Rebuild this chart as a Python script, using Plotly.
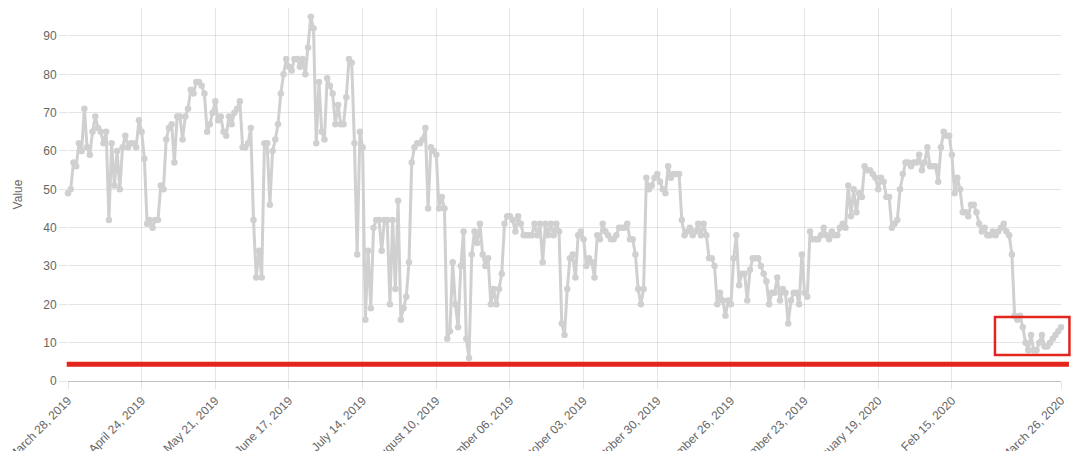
import pandas as pd
import plotly.graph_objects as go

start_date = "2019-03-28"

values = [
    49, 50, 57, 56, 62, 60, 71, 61, 59, 65,
    69, 66, 65, 62, 65, 42, 62, 51, 60, 50,
    61, 64, 61, 62, 62, 61, 68, 65, 58, 41,
    42, 40, 42, 42, 51, 50, 63, 66, 67, 57,
    69, 69, 63, 69, 71, 76, 75, 78, 78, 77,
    75, 65, 67, 70, 73, 68, 69, 65, 64, 69,
    67, 70, 71,
    73, 61, 61, 62, 66, 42, 27, 34, 27, 62,
    62, 46, 60, 63, 67, 75, 80, 84, 82, 81,
    84, 84, 82, 84, 80, 87, 95, 92, 62, 78,
    65, 63, 79, 77, 75, 67, 72, 67, 67, 74,
    84, 83, 62, 33, 65, 61,
    16, 34, 19, 40, 42, 42, 34, 42, 42, 20,
    42, 24, 47, 16, 19, 22, 31, 57, 61, 62,
    62, 63, 66, 45, 61, 60, 59, 45, 48, 45,
    11, 13, 31, 20, 14, 30, 39, 11, 6, 33,
    39, 36, 41, 33, 30, 32, 20, 24, 20, 24,
    28, 41, 43, 43, 42, 39, 43, 41, 38, 38,
    38, 38, 41, 38, 41, 31, 41, 38, 41, 38,
    41, 39, 15, 12, 24, 32, 33, 27,
    38, 39, 37, 30, 32, 31, 27, 38, 37, 41,
    39, 38, 37, 37, 38, 40, 40, 40, 41, 37,
    37, 33, 24, 20, 24, 53,
    50, 51, 53, 54, 52, 50, 49, 56, 53, 54,
    54, 54, 42, 38, 39, 40, 38, 39, 41, 38,
    41, 38, 32, 32, 30, 20, 23, 21, 17, 21,
    20, 32, 38, 25, 28, 28, 21, 29, 32, 32,
    32, 30, 28, 26, 20, 23, 23, 27,
    21, 24, 23, 15, 21, 23, 23, 20, 33, 23,
    22, 39, 37, 37, 37, 38, 40, 38, 37, 39,
    38, 38, 40, 41, 40,
    51, 43, 50, 44, 49, 48, 56, 55, 55, 54,
    53, 50, 53, 52, 48, 48, 40, 41, 42, 50,
    54, 57, 57, 56, 57, 57, 59, 55, 57, 61,
    56, 56, 56, 52, 61, 65, 64, 64, 59,
    49, 53, 50, 44, 44, 43, 46, 46, 44, 41,
    39, 40, 38, 38, 39, 38, 39, 40, 41, 39,
    38, 33, 17, 16, 17, 14, 10, 8, 12, 8,
    8, 10, 12, 9, 9, 10, 11, 12, 13, 14,
]

tick_dates = [
    "2019-03-28", "2019-04-24", "2019-05-21", "2019-06-17", "2019-07-14",
    "2019-08-10", "2019-09-06", "2019-10-03", "2019-10-30", "2019-11-26",
    "2019-12-23", "2020-01-19", "2020-02-15", "2020-03-26",
]
tick_labels = [
    "March 28, 2019", "April 24, 2019", "May 21, 2019", "June 17, 2019",
    "July 14, 2019", "August 10, 2019", "September 06, 2019", "October 03, 2019",
    "October 30, 2019", "November 26, 2019", "December 23, 2019",
    "January 19, 2020", "Feb 15, 2020", "March 26, 2020",
]

threshold_value = 4.4
highlight_y = [6.8, 16.7]

dates = pd.date_range(start_date, periods=len(values), freq="D")

GRID = "rgba(0,0,0,0.1)"
FONT = dict(family="Liberation Sans, Arial, Helvetica, sans-serif", size=12, color="#666666")
LINE_COLOR = "#d0d0d0"

# the page body adds an 8px offset; figure is sized so the plot lands where the reference has it
PLOT_H = 373

fig = go.Figure()
fig.add_trace(go.Scatter(
    x=dates, y=values, mode="lines+markers",
    line=dict(color=LINE_COLOR, width=3),
    marker=dict(color=LINE_COLOR, size=6.5),
    cliponaxis=False, showlegend=False, hoverinfo="x+y",
))

fig.update_layout(
    width=1072, height=443,
    margin=dict(l=60, r=19, t=0, b=70),
    paper_bgcolor="white", plot_bgcolor="white",
    font=FONT,
    showlegend=False,
)

fig.update_xaxes(
    range=[dates[0], dates[-1]], automargin=False,
    tickmode="array", tickvals=pd.to_datetime(tick_dates), ticktext=tick_labels,
    tickangle=-45, ticklabeloverflow="allow",
    showgrid=True, gridcolor=GRID, gridwidth=1,
    ticks="outside", ticklen=7, tickcolor=GRID,
    showline=True, linecolor="rgba(0,0,0,0.25)", linewidth=1,
    zeroline=False, tickfont=FONT,
)
fig.update_yaxes(
    range=[0, 97.3], tickmode="linear", tick0=0, dtick=10, automargin=False,
    showgrid=True, gridcolor=GRID, gridwidth=1,
    ticks="outside", ticklen=8, tickcolor=GRID,
    showline=False, zeroline=False, tickfont=FONT,
    title=dict(text="Value", font=FONT, standoff=18),
)

# "100" tick label that sits at the very top edge
fig.add_annotation(
    xref="paper", yref="paper", x=0, y=1 + 10.3 / PLOT_H,
    xanchor="right", yanchor="middle", xshift=-9,
    text="100", showarrow=False, font=FONT,
)

# red threshold line
fig.add_shape(
    type="line", xref="paper", yref="y",
    x0=-0.0013, x1=1.008, y0=threshold_value, y1=threshold_value,
    line=dict(color="rgb(228,37,30)", width=5), layer="above",
)
# red highlight box
fig.add_shape(
    type="rect", xref="paper", yref="y",
    x0=0.9335, x1=1.0085, y0=highlight_y[0], y1=highlight_y[1],
    line=dict(color="rgb(228,37,30)", width=2.5), layer="above",
)

fig.write_html("out.html")
